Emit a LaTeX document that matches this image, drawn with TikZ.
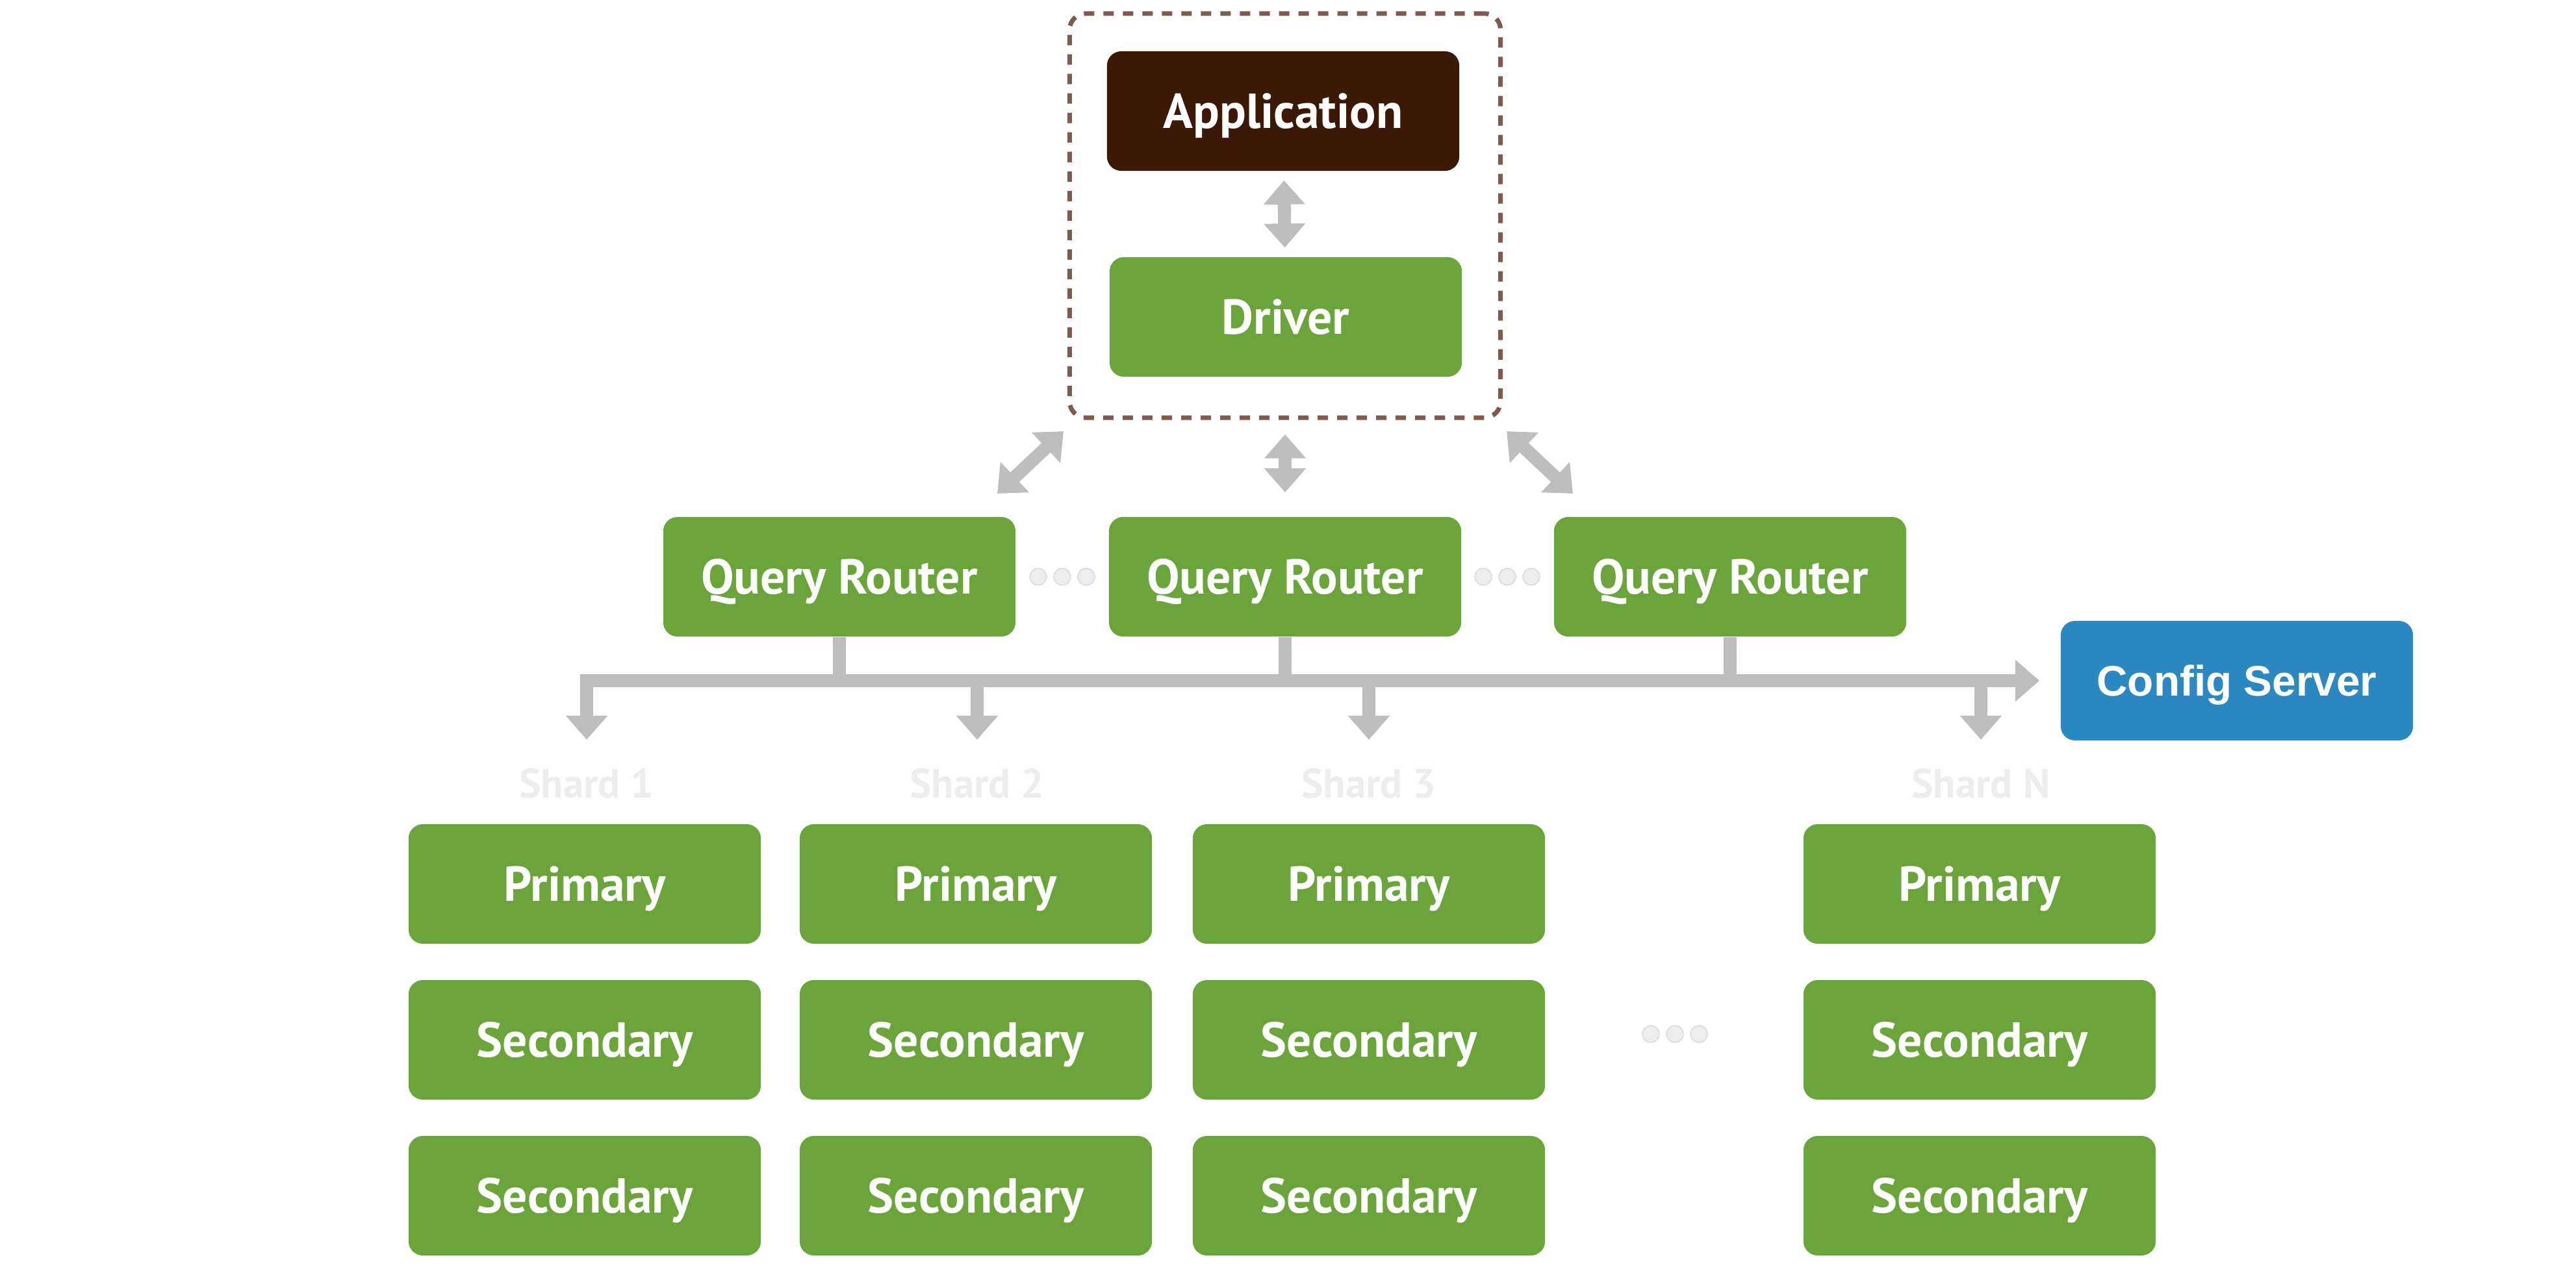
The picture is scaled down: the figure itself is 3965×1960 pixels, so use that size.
\documentclass[tikz,border=0pt]{standalone}
\usepackage{fontspec}
\setmainfont{PT Sans}
\newfontfamily\arialfont{Liberation Sans}
\usetikzlibrary{arrows.meta,shapes}
\definecolor{leafgreen}{RGB}{107,164,58}
\definecolor{appbrown}{RGB}{60,24,6}
\definecolor{dashbrown}{RGB}{125,91,78}
\definecolor{pipegray}{RGB}{191,190,191}
\definecolor{cfgblue}{RGB}{44,136,193}
\definecolor{ghost}{RGB}{238,237,236}
\tikzstyle{gbox}=[rectangle,rounded corners=0.22cm,fill=leafgreen,text=white,minimum width=5.42cm,minimum height=1.84cm,inner sep=0pt,text height=15pt,text depth=0pt,font=\bfseries\fontsize{21.5}{26}\selectfont]
\tikzstyle{abox}=[gbox,fill=appbrown]
\tikzstyle{cbox}=[gbox,fill=cfgblue,text height=13.4pt,font=\arialfont\bfseries\fontsize{18.7}{23}\selectfont]
\tikzstyle{grpbox}=[rectangle,rounded corners=0.25cm,draw=dashbrown,line width=0.07cm,dash pattern=on 0.16cm off 0.14cm,minimum width=6.63cm,minimum height=6.22cm]
\tikzstyle{shardlbl}=[text=ghost,font=\bfseries\fontsize{18}{22}\selectfont,inner sep=0pt]
\tikzstyle{pipe}=[draw=pipegray,line width=0.2cm]
\tikzstyle{onearrow}=[pipe,-{Triangle[width=0.62cm,length=0.37cm]}]
\tikzstyle{twoarrow}=[pipe,{Triangle[width=0.62cm,length=0.37cm]}-{Triangle[width=0.62cm,length=0.37cm]}]
\tikzstyle{dotmark}=[fill=ghost,draw=black!15,line width=0.4pt]

\begin{document}
\begin{tikzpicture}[x=0.01cm,y=-0.01cm]
\useasboundingbox (0,0) rectangle (3965,1960);
% client side
\node[grpbox] (grp) at (1978,332) {};
\node[abox] (app) at (1975,171) {Application};
\node[gbox] (drv) at (1979,488) {Driver};
\draw[twoarrow,shorten <=0.14cm,shorten >=0.14cm](app)--(drv);
% routers
\node[gbox] (qr1) at (1292,888) {Query Router};
\node[gbox] (qr2) at (1978,888) {Query Router};
\node[gbox] (qr3) at (2663,888) {Query Router};
\coordinate (l1) at (1637,664);\coordinate (l2) at (1535,760);
\coordinate (r1) at (2319,664);\coordinate (r2) at (2421,760);
\draw[twoarrow](l1)--(l2);\draw[twoarrow](r1)--(r2);
\draw[twoarrow,shorten <=0.22cm,shorten >=0.37cm](grp.south)--(qr2.north);
\filldraw[dotmark](1598,888) circle[radius=13] (1635,888) circle[radius=13] (1672,888) circle[radius=13];
\filldraw[dotmark](2283,888) circle[radius=13] (2320,888) circle[radius=13] (2357,888) circle[radius=13];
% bus
\node[cbox] (cfg) at (3443,1048) {Config Server};
\coordinate (bus) at (893,1048);
\draw[pipe](qr1.south)--(qr1.south|-bus);\draw[pipe](qr2.south)--(qr2.south|-bus);\draw[pipe](qr3.south)--(qr3.south|-bus);
\draw[onearrow,shorten >=0.32cm](bus)--(cfg.west);
% shards
\node[shardlbl] (s1) at (903,1206) {Shard 1};
\node[shardlbl] (s2) at (1504,1206) {Shard 2};
\node[shardlbl] (s3) at (2107,1206) {Shard 3};
\node[shardlbl] (s4) at (3049,1206) {Shard N};
\coordinate (b1) at (903,1048);\coordinate (b2) at (1504,1048);\coordinate (b3) at (2107,1048);\coordinate (b4) at (3049,1048);
\draw[onearrow](b1)--(903,1139);\draw[onearrow](b2)--(1504,1139);\draw[onearrow](b3)--(2107,1139);\draw[onearrow](b4)--(3049,1139);
\node[gbox] (p1) at (900,1361) {Primary};\node[gbox] (p2) at (1502,1361) {Primary};\node[gbox] (p3) at (2107,1361) {Primary};\node[gbox] (p4) at (3047,1361) {Primary};
\node[gbox] (sa1) at (900,1601) {Secondary};\node[gbox] (sa2) at (1502,1601) {Secondary};\node[gbox] (sa3) at (2107,1601) {Secondary};\node[gbox] (sa4) at (3047,1601) {Secondary};
\node[gbox] (sb1) at (900,1841) {Secondary};\node[gbox] (sb2) at (1502,1841) {Secondary};\node[gbox] (sb3) at (2107,1841) {Secondary};\node[gbox] (sb4) at (3047,1841) {Secondary};
\filldraw[dotmark](2541,1592) circle[radius=13] (2578,1592) circle[radius=13] (2615,1592) circle[radius=13];
\end{tikzpicture}
\end{document}
